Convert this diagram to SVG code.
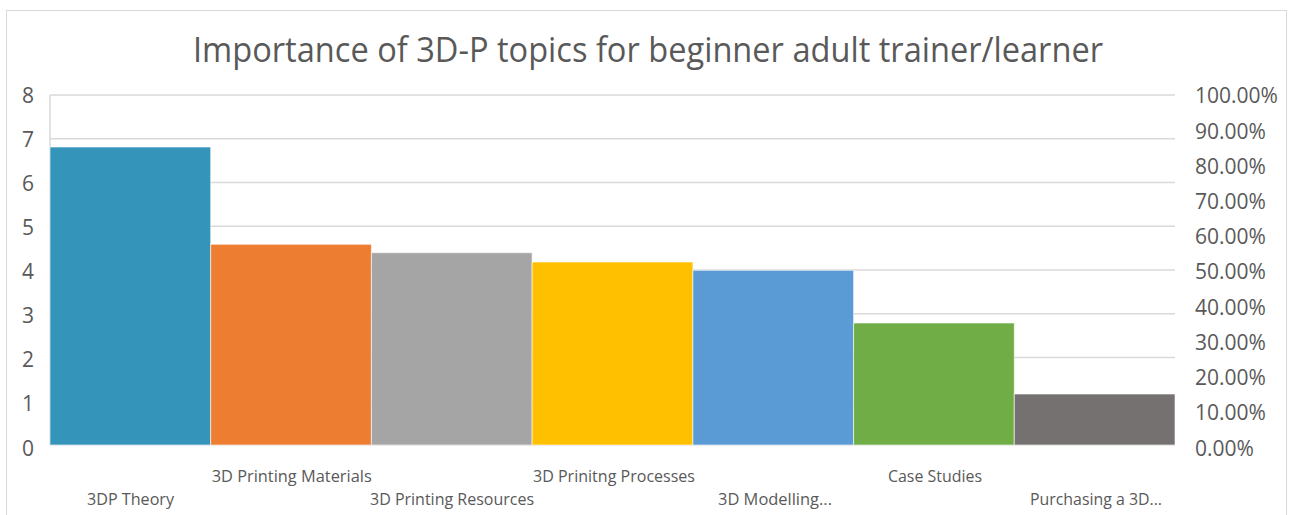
<svg xmlns="http://www.w3.org/2000/svg" width="1290" height="515" viewBox="0 0 1290 515">
  <style>
    .t { font-family: "Open Sans", "Liberation Sans", sans-serif; fill: #595959; }
    .title { font-size: 35px; }
    .ax { font-size: 21px; }
    .cat { font-size: 16px; }
    .grid { stroke: #D9D9D9; stroke-width: 1.5; fill: none; }
    .bar { stroke: #FFFFFF; stroke-opacity: 0.6; stroke-width: 1; }
  </style>
  <rect x="0" y="0" width="1290" height="515" fill="#FFFFFF"/>
  <rect x="6.5" y="10.5" width="1280" height="520" fill="none" stroke="#D9D9D9" stroke-width="1"/>

  <g id="title">
    <text class="t title" x="648" y="62" text-anchor="middle" textLength="910" lengthAdjust="spacingAndGlyphs">Importance of 3D-P topics for beginner adult trainer/learner</text>
  </g>

  <g id="gridlines">
    <line class="grid" x1="50" y1="95" x2="1175" y2="95"/>
    <line class="grid" x1="50" y1="138.75" x2="1175" y2="138.75"/>
    <line class="grid" x1="50" y1="182.5" x2="1175" y2="182.5"/>
    <line class="grid" x1="50" y1="226.25" x2="1175" y2="226.25"/>
    <line class="grid" x1="50" y1="270" x2="1175" y2="270"/>
    <line class="grid" x1="50" y1="313.75" x2="1175" y2="313.75"/>
    <line class="grid" x1="50" y1="357.5" x2="1175" y2="357.5"/>
    <line class="grid" x1="50" y1="401.25" x2="1175" y2="401.25"/>
    <line class="grid" x1="50" y1="445" x2="1175" y2="445"/>
    <line class="grid" x1="50" y1="95" x2="50" y2="445"/>
  </g>

  <g id="bars">
    <g id="bar-3dp-theory"><rect class="bar" x="50" y="147" width="160.7" height="298" fill="#3494BA"/></g>
    <g id="bar-materials"><rect class="bar" x="210.7" y="244.3" width="160.7" height="200.7" fill="#ED7D31"/></g>
    <g id="bar-resources"><rect class="bar" x="371.4" y="252.7" width="160.7" height="192.3" fill="#A5A5A5"/></g>
    <g id="bar-processes"><rect class="bar" x="532.1" y="262" width="160.8" height="183" fill="#FFC000"/></g>
    <g id="bar-modelling"><rect class="bar" x="692.9" y="270.3" width="160.7" height="174.7" fill="#5B9BD5"/></g>
    <g id="bar-case-studies"><rect class="bar" x="853.6" y="323" width="160.7" height="122" fill="#70AD47"/></g>
    <g id="bar-purchasing"><rect class="bar" x="1014.3" y="394" width="160.7" height="51" fill="#767171"/></g>
  </g>

  <g id="left-axis">
    <text class="t ax" x="34" y="103" text-anchor="end">8</text>
    <text class="t ax" x="34" y="147.1" text-anchor="end">7</text>
    <text class="t ax" x="34" y="191.1" text-anchor="end">6</text>
    <text class="t ax" x="34" y="235.2" text-anchor="end">5</text>
    <text class="t ax" x="34" y="279.3" text-anchor="end">4</text>
    <text class="t ax" x="34" y="323.3" text-anchor="end">3</text>
    <text class="t ax" x="34" y="367.4" text-anchor="end">2</text>
    <text class="t ax" x="34" y="411.4" text-anchor="end">1</text>
    <text class="t ax" x="34" y="455.5" text-anchor="end">0</text>
  </g>

  <g id="right-axis">
    <text class="t ax" x="1195" y="103.3">100.00%</text>
    <text class="t ax" x="1195" y="138.5">90.00%</text>
    <text class="t ax" x="1195" y="173.7">80.00%</text>
    <text class="t ax" x="1195" y="209">70.00%</text>
    <text class="t ax" x="1195" y="244.2">60.00%</text>
    <text class="t ax" x="1195" y="279.4">50.00%</text>
    <text class="t ax" x="1195" y="314.6">40.00%</text>
    <text class="t ax" x="1195" y="349.8">30.00%</text>
    <text class="t ax" x="1195" y="385.1">20.00%</text>
    <text class="t ax" x="1195" y="420.3">10.00%</text>
    <text class="t ax" x="1195" y="455.5">0.00%</text>
  </g>

  <g id="category-labels">
    <text class="t cat" x="130.5" y="505" text-anchor="middle" textLength="87" lengthAdjust="spacingAndGlyphs">3DP Theory</text>
    <text class="t cat" x="291.7" y="482" text-anchor="middle" textLength="160" lengthAdjust="spacingAndGlyphs">3D Printing Materials</text>
    <text class="t cat" x="452" y="505" text-anchor="middle" textLength="164" lengthAdjust="spacingAndGlyphs">3D Printing Resources</text>
    <text class="t cat" x="614" y="482" text-anchor="middle" textLength="162" lengthAdjust="spacingAndGlyphs">3D Prinitng Processes</text>
    <text class="t cat" x="775" y="505" text-anchor="middle" textLength="114" lengthAdjust="spacingAndGlyphs">3D Modelling...</text>
    <text class="t cat" x="935" y="482" text-anchor="middle" textLength="94" lengthAdjust="spacingAndGlyphs">Case Studies</text>
    <text class="t cat" x="1096" y="505" text-anchor="middle" textLength="132" lengthAdjust="spacingAndGlyphs">Purchasing a 3D...</text>
  </g>
</svg>
